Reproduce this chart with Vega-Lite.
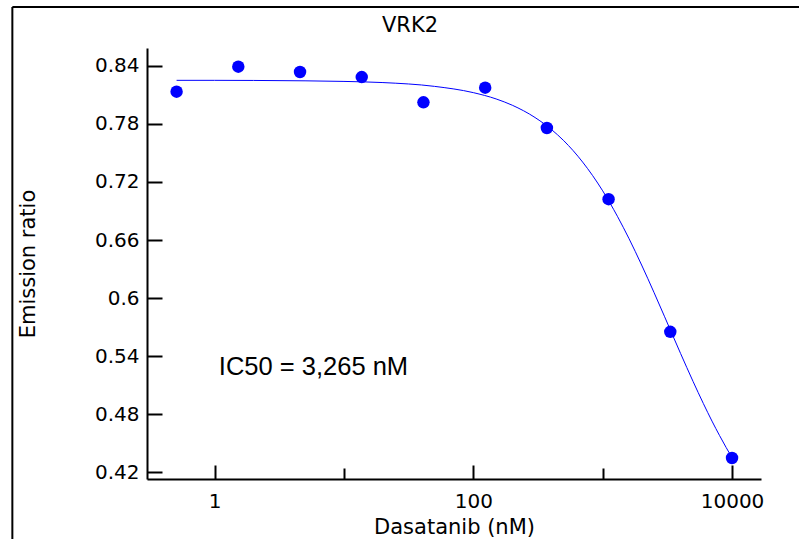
{
  "$schema": "https://vega.github.io/schema/vega-lite/v6.json",
  "width": 614,
  "height": 431,
  "autosize": "none",
  "padding": {"left": 147, "top": 48, "right": 38, "bottom": 60},
  "background": "white",
  "title": {
    "text": "VRK2",
    "font": "DejaVu Sans",
    "fontSize": 21,
    "fontWeight": "normal",
    "color": "black",
    "frame": "group",
    "anchor": "middle",
    "baseline": "alphabetic",
    "dx": -44,
    "offset": -47
  },
  "datasets": {
    "points": [
      {"conc": 0.508, "ratio": 0.8132},
      {"conc": 1.524, "ratio": 0.839},
      {"conc": 4.572, "ratio": 0.8335},
      {"conc": 13.72, "ratio": 0.8283},
      {"conc": 41.15, "ratio": 0.8022},
      {"conc": 123.5, "ratio": 0.8173},
      {"conc": 370.4, "ratio": 0.7757},
      {"conc": 1111, "ratio": 0.7022},
      {"conc": 3333, "ratio": 0.5652},
      {"conc": 10000, "ratio": 0.4349}
    ],
    "curve": [
      {"conc": 0.508, "ratio": 0.8249},
      {"conc": 1, "ratio": 0.8249},
      {"conc": 2, "ratio": 0.8248},
      {"conc": 5, "ratio": 0.8244},
      {"conc": 10, "ratio": 0.8238},
      {"conc": 20, "ratio": 0.8226},
      {"conc": 50, "ratio": 0.8187},
      {"conc": 100, "ratio": 0.8122},
      {"conc": 150, "ratio": 0.8057},
      {"conc": 200, "ratio": 0.7992},
      {"conc": 300, "ratio": 0.7865},
      {"conc": 400, "ratio": 0.7743},
      {"conc": 500, "ratio": 0.7626},
      {"conc": 700, "ratio": 0.7405},
      {"conc": 1000, "ratio": 0.7108},
      {"conc": 1300, "ratio": 0.6845},
      {"conc": 1600, "ratio": 0.6613},
      {"conc": 2000, "ratio": 0.6342},
      {"conc": 2500, "ratio": 0.6055},
      {"conc": 3000, "ratio": 0.5813},
      {"conc": 3500, "ratio": 0.5607},
      {"conc": 4000, "ratio": 0.5429},
      {"conc": 5000, "ratio": 0.5139},
      {"conc": 6000, "ratio": 0.4912},
      {"conc": 7000, "ratio": 0.473},
      {"conc": 8000, "ratio": 0.4582},
      {"conc": 9000, "ratio": 0.4458},
      {"conc": 10000, "ratio": 0.4353}
    ]
  },
  "layer": [
    {
      "data": {"name": "curve"},
      "mark": {"type": "line", "color": "#0000FF", "strokeWidth": 1, "interpolate": "monotone"},
      "encoding": {
        "x": {
          "field": "conc",
          "type": "quantitative",
          "scale": {"type": "log", "domain": [0.3, 16750], "nice": false},
          "axis": {
            "title": "Dasatanib (nM)",
            "values": [1, 10, 100, 1000, 10000],
            "format": "d",
            "labelExpr": "datum.value == 10 || datum.value == 1000 ? '' : datum.label",
            "tickSize": {"condition": {"test": "datum.value == 10 || datum.value == 1000", "value": -11}, "value": -14},
            "labelPadding": 26,
            "titlePadding": 2
          }
        },
        "y": {
          "field": "ratio",
          "type": "quantitative",
          "scale": {"domain": [0.4132, 0.8583], "nice": false, "zero": false},
          "axis": {
            "title": "Emission ratio",
            "values": [0.42, 0.45, 0.48, 0.51, 0.54, 0.57, 0.6, 0.63, 0.66, 0.69, 0.72, 0.75, 0.78, 0.81, 0.84],
            "format": "~g",
            "labelExpr": "indexof([0.45, 0.51, 0.57, 0.63, 0.69, 0.75, 0.81], datum.value) >= 0 ? '' : datum.label",
            "tickSize": {"condition": {"test": "indexof([0.45, 0.51, 0.57, 0.63, 0.69, 0.75, 0.81], datum.value) >= 0", "value": -10}, "value": -15},
            "labelPadding": 23,
            "titlePadding": 56
          }
        }
      }
    },
    {
      "data": {"name": "points"},
      "mark": {"type": "circle", "size": 155, "color": "#0000FF", "opacity": 1},
      "encoding": {
        "x": {"field": "conc", "type": "quantitative"},
        "y": {"field": "ratio", "type": "quantitative"}
      }
    },
    {
      "data": {"values": [{"label": "IC50 = 3,265 nM"}]},
      "mark": {"type": "text", "font": "Liberation Sans", "fontSize": 25.5, "align": "left", "baseline": "alphabetic", "color": "black"},
      "encoding": {
        "x": {"datum": 1.078},
        "y": {"datum": 0.5201},
        "text": {"field": "label"}
      }
    },
    {
      "data": {"values": [{}]},
      "mark": {"type": "rule", "color": "black", "strokeWidth": 2},
      "encoding": {
        "x": {"datum": 0.0273},
        "x2": {"datum": 100000},
        "y": {"datum": 0.9006}
      }
    },
    {
      "data": {"values": [{}]},
      "mark": {"type": "rule", "color": "black", "strokeWidth": 2},
      "encoding": {
        "x": {"datum": 0.0273},
        "y": {"datum": 0.9006},
        "y2": {"datum": 0.3}
      }
    }
  ],
  "config": {
    "view": {"stroke": null},
    "axis": {
      "grid": false,
      "labelFont": "DejaVu Sans",
      "labelFontSize": 20,
      "labelColor": "black",
      "labelOverlap": false,
      "labelBound": false,
      "labelFlush": false,
      "titleFont": "DejaVu Sans",
      "titleFontSize": 21,
      "titleFontWeight": "normal",
      "titleColor": "black",
      "domainColor": "black",
      "domainWidth": 2,
      "tickColor": "black",
      "tickWidth": 2
    }
  }
}
